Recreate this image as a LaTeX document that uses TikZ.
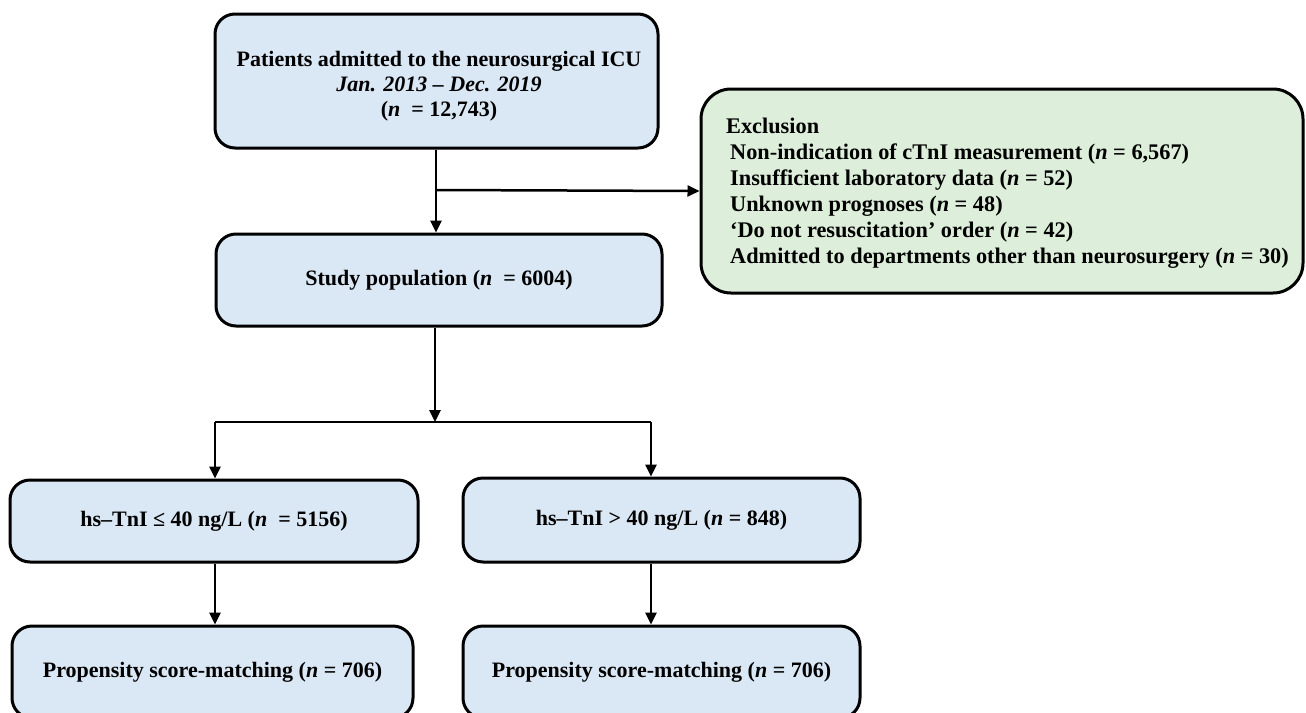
\documentclass[tikz,border=0pt]{standalone}
\usepackage{fontspec}
\setmainfont{Liberation Serif}
\usetikzlibrary{arrows.meta}
\definecolor{boxblue}{RGB}{218,231,244}
\definecolor{boxgreen}{RGB}{221,239,218}
\tikzset{
  bluebox/.style={draw=black, line width=3pt, fill=boxblue, rounded corners=20pt, align=center,
    font=\fontsize{22}{25}\selectfont\bfseries, inner sep=0pt},
  greenbox/.style={draw=black, line width=3pt, fill=boxgreen, rounded corners=30pt,
    inner sep=0pt},
  txt/.style={inner sep=0pt, font=\fontsize{22}{25}\selectfont\bfseries},
  arr/.style={line width=2.5pt, -{Triangle[length=12pt,width=11pt]}},
  ln/.style={line width=2.5pt},
}
\begin{document}
\begin{tikzpicture}[x=1pt,y=-1pt]
\useasboundingbox (0,0) rectangle (1306,712);
\node[bluebox, minimum width=443pt, minimum height=134pt] (top) at (436.5,81) {};
\node[txt, align=center, anchor=north] (topt) at (439,51)
  {Patients admitted to the neurosurgical ICU\\ \textit{Jan. 2013 – Dec. 2019}\\ (\textit{n}\ \ = 12,743)};
\node[bluebox, minimum width=446pt, minimum height=92pt] (pop) at (439,280)
  {Study population (\textit{n}\ \ = 6004)};
\node[greenbox, minimum width=602pt, minimum height=204pt] (exc) at (1002,191) {};
\node[txt, anchor=north west, align=left, font=\fontsize{22.3}{26}\selectfont\bfseries] (exct) at (726,118)
  {Exclusion\\
   \hspace{4pt}Non-indication of cTnI measurement (\textit{n} = 6,567)\\
   \hspace{4pt}Insufficient laboratory data (\textit{n} = 52)\\
   \hspace{4pt}Unknown prognoses (\textit{n} = 48)\\
   \hspace{4pt}‘Do not resuscitation’ order (\textit{n} = 42)\\
   \hspace{4pt}Admitted to departments other than neurosurgery (\textit{n} = 30)};
\node[bluebox, minimum width=408pt, minimum height=82pt] (lm) at (214,521)
  {hs–TnI ≤ 40 ng/L (\textit{n}\ \ = 5156)};
\node[bluebox, minimum width=397pt, minimum height=84pt] (rm) at (661.5,520)
  {hs–TnI > 40 ng/L (\textit{n} = 848)};
\node[bluebox, minimum width=401pt, minimum height=92pt] (lb) at (212.5,672)
  {Propensity score-matching (\textit{n} = 706)};
\node[bluebox, minimum width=397pt, minimum height=92pt] (rb) at (661.5,672)
  {Propensity score-matching (\textit{n} = 706)};
% connectors
\coordinate (br) at (436,190);
\coordinate (sp) at (435,422);
\coordinate (sl) at (215,422);
\coordinate (sr) at (651,422);
\draw[arr] (top.south -| br) -- (pop.north -| br);
\draw[arr] (br) -- (exc.west);
\draw[arr] (pop.south -| sp) -- (sp);
\draw[ln] (sl) -- (sr);
\draw[arr] (sl) -- (lm.north -| sl);
\draw[arr] (sr) -- (rm.north -| sr);
\draw[arr] (lm.south -| sl) -- (lb.north -| sl);
\draw[arr] (rm.south -| sr) -- (rb.north -| sr);
\end{tikzpicture}
\end{document}
